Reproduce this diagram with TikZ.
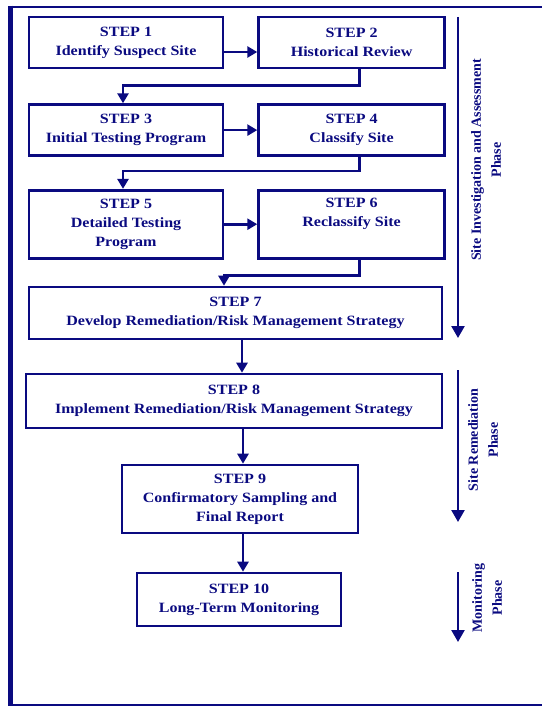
\documentclass[tikz,border=0pt]{standalone}
\usepackage{fontspec}
\setmainfont{Liberation Serif}[FakeStretch=1.13]
\newfontfamily\phasefont{Liberation Serif}
\usetikzlibrary{arrows.meta,positioning,calc}
\definecolor{reportNavy}{HTML}{0A0A80}

\begin{document}
\begin{tikzpicture}[
        x=1pt, y=-1pt,
        node distance=33pt,
        stepbox/.style={
                rectangle,
                draw=reportNavy,
                line width=2.6pt,
                text=reportNavy,
                align=center,
                inner sep=0pt,
                font=\fontsize{14.2}{19}\selectfont\bfseries
            },
        link/.style={draw=reportNavy, line width=2.6pt, -{Triangle[length=10pt,width=11pt]}},
        phase/.style={draw=reportNavy, line width=2.4pt, -{Triangle[length=12pt,width=13pt]}},
        phaselbl/.style={
                rotate=90,
                text=reportNavy,
                align=center,
                inner sep=0pt,
                font=\phasefont\fontsize{14}{20}\selectfont\bfseries
            }
    ]
    \useasboundingbox (0,0) rectangle (542,706);
    \draw[reportNavy, line width=2.5pt] (8,7) -- (542,7);
    \draw[reportNavy, line width=4.5pt] (10.5,5.75) -- (10.5,706);
    \draw[reportNavy, line width=1.2pt] (8,705) -- (542,705);

    \node[stepbox, minimum width=194pt, minimum height=51pt] (step1) at (126,42.5) {STEP 1\\Identify Suspect Site};
    \node[stepbox, minimum width=186pt, minimum height=51pt, right=of step1] (step2) {STEP 2\\Historical Review};
    \node[stepbox, minimum width=194pt, minimum height=51pt, below=34pt of step1] (step3) {STEP 3\\Initial Testing Program};
    \node[stepbox, minimum width=186pt, minimum height=51pt, right=of step3] (step4) {STEP 4\\Classify Site};
    \node[stepbox, minimum width=194pt, minimum height=68pt, below=32pt of step3] (step5) {STEP 5\\Detailed Testing\\Program};
    \node[stepbox, minimum width=186pt, minimum height=68pt, right=of step5] (step6) {STEP 6\\Reclassify Site\\\strut};
    \node[stepbox, minimum width=413pt, minimum height=52pt] (step7) at (235.5,313) {STEP 7\\Develop Remediation/Risk Management Strategy};
    \node[stepbox, minimum width=416pt, minimum height=54pt] (step8) at (234,401) {STEP 8\\Implement Remediation/Risk Management Strategy};
    \node[stepbox, minimum width=236pt, minimum height=68pt] (step9) at (240,499) {STEP 9\\Confirmatory Sampling and\\Final Report};
    \node[stepbox, minimum width=204pt, minimum height=53pt] (step10) at (239,599.5) {STEP 10\\Long-Term Monitoring};

    \draw[link] ([yshift=-9.5pt]step1.east) -- ([yshift=-9.5pt]step2.west);
    \draw[link] (step3) -- (step4);
    \draw[link] (step5) -- (step6);
    \draw[link] ([xshift=8pt]step2.south) -- ++(0,16) -| ([xshift=-3pt]step3.north);
    \draw[link] ([xshift=8pt]step4.south) -- ++(0,14) -| ([xshift=-3pt]step5.north);
    \draw[link] ([xshift=8pt]step6.south) -- ++(0,16) -| ([xshift=-11.5pt]step7.north);
    \draw[link] ([xshift=6.5pt]step7.south) -- ([xshift=6.5pt]step7.south |- step8.north);
    \draw[link] ([xshift=3pt]step9.north |- step8.south) -- ([xshift=3pt]step9.north);
    \draw[link] ([xshift=3pt]step9.south) -- ([xshift=4pt]step10.north);

    \coordinate (invTop) at (458,17);
    \coordinate (invEnd) at (458,338);
    \coordinate (remTop) at (458,370);
    \coordinate (remEnd) at (458,522);
    \coordinate (monTop) at (458,572);
    \coordinate (monEnd) at (458,642);
    \draw[phase] (invTop) -- (invEnd);
    \draw[phase] (remTop) -- (remEnd);
    \draw[phase] (monTop) -- (monEnd);
    \node[phaselbl] (invLbl) at (486,160) {Site Investigation and Assessment\\Phase};
    \node[phaselbl] (remLbl) at (483,440) {Site Remediation\\Phase};
    \node[phaselbl] (monLbl) at (487,598) {Monitoring\\Phase};
\end{tikzpicture}
\end{document}
